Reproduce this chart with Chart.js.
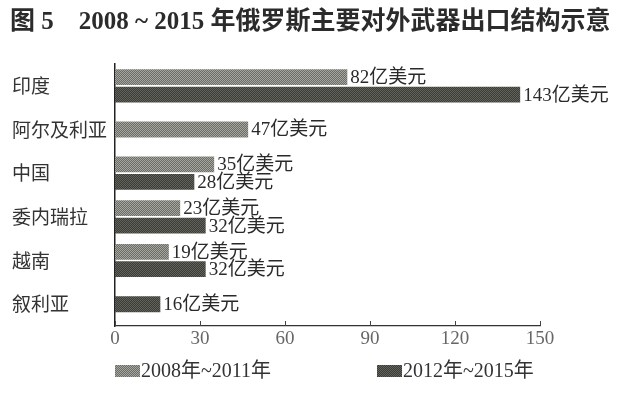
<!DOCTYPE html>
<html>
<head>
<meta charset="utf-8">
<script src="https://cdn.jsdelivr.net/npm/chart.js@4"></script>
<style>
  html, body { margin: 0; padding: 0; background: #fff; }
  #wrap { width: 626px; height: 394px; }
</style>
</head>
<body>
<div id="wrap"><canvas id="chart" width="626" height="394"></canvas></div>
<script>
// ── Data ──
const countries   = ['印度', '阿尔及利亚', '中国', '委内瑞拉', '越南', '叙利亚'];
const period1     = [82, 47, 35, 23, 19, null];
const period2     = [143, null, 28, 32, 32, 16];
const seriesNames = ['2008年~2011年', '2012年~2015年'];
const xTicks      = [0, 30, 60, 90, 120, 150];
const unitText    = '亿美元';
const titleText   = '图 5    2008 ~ 2015 年俄罗斯主要对外武器出口结构示意';

const SERIF = '"Liberation Serif", "Noto Sans CJK SC", serif';
const SANS  = '"Noto Sans CJK SC", sans-serif';

// ── dithered fill like the printed figure ──
function makePattern(c1, c2) {
  var p = document.createElement('canvas');
  p.width = 2; p.height = 2;
  var g = p.getContext('2d');
  g.fillStyle = c1; g.fillRect(0, 0, 2, 2);
  g.fillStyle = c2; g.fillRect(0, 0, 1, 1); g.fillRect(1, 1, 1, 1);
  return g.createPattern(p, 'repeat');
}

var ctx = document.getElementById('chart').getContext('2d');
var fill1 = makePattern('#6c6c66', '#a6a6a0');
var fill2 = makePattern('#3c3c37', '#63635d');

// ── title, drawn freely so it can run past the plot's right edge ──
var freeTitle = {
  id: 'freeTitle',
  afterDraw: function(chart) {
    var c = chart.ctx;
    c.save();
    c.font = 'bold 25px ' + SERIF;
    c.fillStyle = '#2b2b2b';
    c.textBaseline = 'middle';
    c.fillText(titleText, 10, 23);
    c.restore();
  }
};

// ── value labels at bar ends ──
var valueLabels = {
  id: 'valueLabels',
  afterDatasetsDraw: function(chart) {
    var c = chart.ctx;
    c.save();
    c.font = '19px ' + SERIF;
    c.fillStyle = '#2a2a2a';
    c.textBaseline = 'middle';
    chart.data.datasets.forEach(function(ds, i) {
      chart.getDatasetMeta(i).data.forEach(function(bar, j) {
        if (ds.data[j] == null) return;
        c.fillText(ds.data[j] + unitText, bar.x + 3, bar.y + 1);
      });
    });
    c.restore();
  }
};

// ── small tick marks pointing up from the x axis ──
var innerTicks = {
  id: 'innerTicks',
  afterDraw: function(chart) {
    var c = chart.ctx, xs = chart.scales.x, bottom = chart.chartArea.bottom;
    c.save();
    c.strokeStyle = '#444';
    c.lineWidth = 1;
    xTicks.forEach(function(v) {
      var px = Math.round(xs.getPixelForValue(v)) + 0.5;
      c.beginPath();
      c.moveTo(px, bottom);
      c.lineTo(px, bottom - 5);
      c.stroke();
    });
    c.restore();
  }
};

// ── legend laid out like the print: two items far apart ──
var bottomLegend = {
  id: 'bottomLegend',
  afterDraw: function(chart) {
    var c = chart.ctx, left = chart.chartArea.left;
    var offsets = [0, 262];
    c.save();
    c.font = '20px ' + SERIF;
    c.textBaseline = 'middle';
    chart.data.datasets.forEach(function(ds, i) {
      var x = left + offsets[i];
      c.fillStyle = ds.backgroundColor;
      c.fillRect(x, 365, 25, 12);
      c.fillStyle = '#333';
      c.fillText(ds.label, x + 26, 372);
    });
    c.restore();
  }
};

new Chart(ctx, {
  type: 'bar',
  data: {
    labels: countries,
    datasets: [
      { label: seriesNames[0], data: period1, backgroundColor: fill1 },
      { label: seriesNames[1], data: period2, backgroundColor: fill2 },
    ],
  },
  options: {
    indexAxis: 'y',
    responsive: false,
    animation: false,
    skipNull: true,
    maxBarThickness: 16,
    categoryPercentage: 0.8,
    barPercentage: 0.9,
    layout: { padding: { left: 12, right: 86, top: 64, bottom: 35 } },
    plugins: {
      title: { display: false },
      legend: { display: false },
      tooltip: { enabled: false },
    },
    scales: {
      x: {
        min: 0,
        max: 150,
        afterBuildTicks: function(scale) {
          scale.ticks = xTicks.map(function(v) { return { value: v }; });
        },
        afterFit: function(scale) { scale.height = 33; },
        border: { display: true, color: '#333', width: 1.2 },
        grid: { display: false, drawTicks: false },
        ticks: { color: '#666', font: { family: SERIF, size: 19 }, padding: 2 },
      },
      y: {
        afterFit: function(scale) { scale.width = 103; },
        border: { display: true, color: '#222', width: 1.5 },
        grid: { display: false, drawTicks: false },
        ticks: { autoSkip: false, crossAlign: 'far', color: '#333', font: { family: SANS, size: 19 } },
      },
    },
  },
  plugins: [freeTitle, valueLabels, innerTicks, bottomLegend],
});
</script>
</body>
</html>
